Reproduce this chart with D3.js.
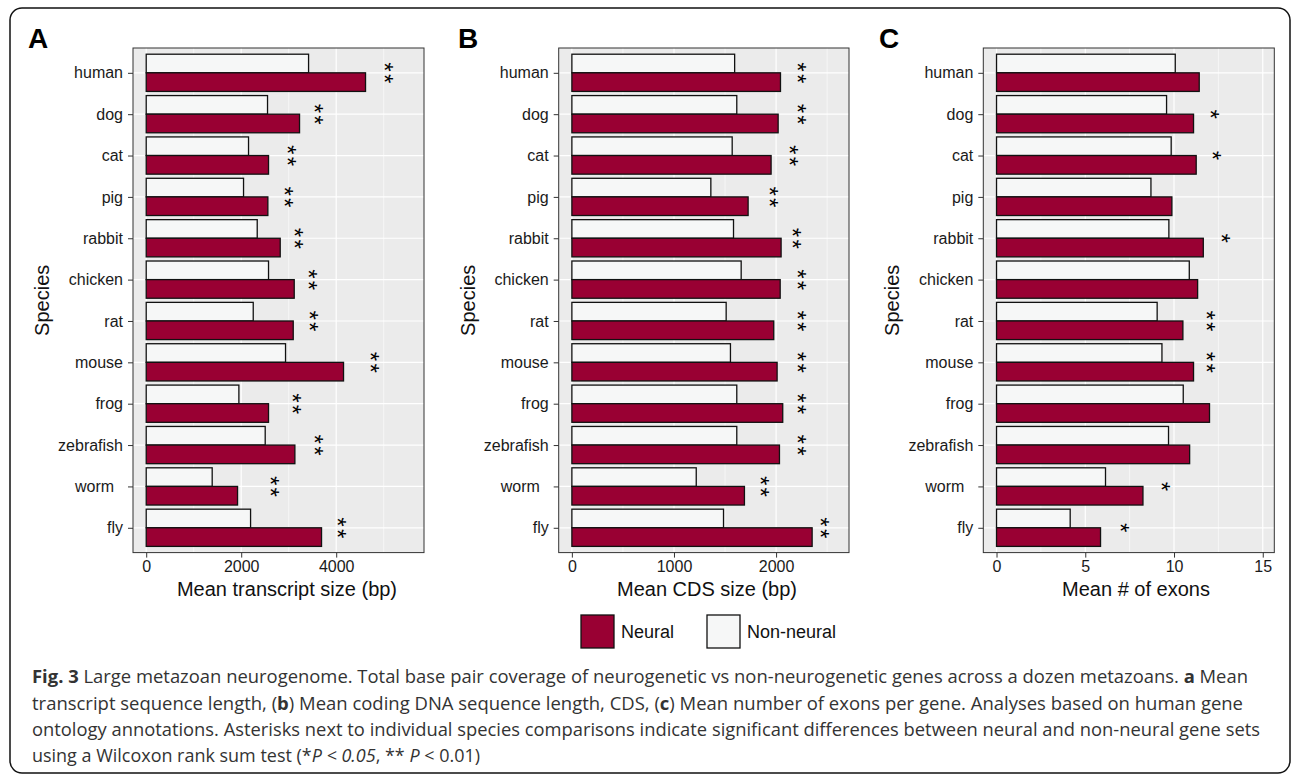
<!DOCTYPE html>
<html>
<head>
<meta charset="utf-8">
<script src="https://cdn.jsdelivr.net/npm/d3@7"></script>
<style>
  body { margin: 0; background: #fff; }
  svg text { font-family: "Liberation Sans", Arial, sans-serif; }
  .caption { font-family: "Open Sans", sans-serif !important; }
</style>
</head>
<body>
<div id="fig"></div>
<script>
// species, top to bottom
const species = ["human", "dog", "cat", "pig", "rabbit", "chicken", "rat", "mouse", "frog", "zebrafish", "worm", "fly"];
const speciesLabels = ["human", "dog", "cat", "pig", "rabbit", "chicken", "rat", "mouse", "frog", "zebrafish", "worm  ", "fly"];

// A: mean transcript size (bp)
const transcriptNeural    = [4617, 3228, 2575, 2561, 2821, 3116, 3095, 4154, 2575, 3130, 1923, 3691];
const transcriptNonNeural = [3418, 2554, 2154, 2049, 2337, 2575, 2253, 2933, 1951, 2505, 1389, 2197];
const transcriptStars     = [2, 2, 2, 2, 2, 2, 2, 2, 2, 2, 2, 2];
const transcriptStarPos   = [5151, 3663, 3101, 3038, 3242, 3543, 3572, 4836, 3207, 3663, 2743, 4141];
const transcriptTicks     = [0, 2000, 4000];

// B: mean CDS size (bp)
const cdsNeural    = [2043, 2020, 1951, 1726, 2049, 2040, 1977, 2010, 2065, 2033, 1690, 2353];
const cdsNonNeural = [1594, 1615, 1570, 1361, 1583, 1658, 1511, 1553, 1615, 1615, 1218, 1485];
const cdsStars     = [2, 2, 2, 2, 2, 2, 2, 2, 2, 2, 2, 2];
const cdsStarPos   = [2271, 2271, 2189, 1994, 2222, 2271, 2271, 2271, 2271, 2271, 1903, 2490];
const cdsTicks     = [0, 1000, 2000];

// C: mean # of exons
const exonNeural    = [11.42, 11.10, 11.25, 9.88, 11.65, 11.33, 10.50, 11.10, 12.0, 10.88, 8.25, 5.86];
const exonNonNeural = [10.07, 9.58, 9.84, 8.70, 9.71, 10.86, 9.05, 9.32, 10.52, 9.69, 6.14, 4.15];
const exonStars     = [0, 1, 1, 0, 1, 0, 2, 2, 0, 0, 1, 1];
const exonStarPos   = [0, 12.40, 12.51, 0, 13.02, 0, 12.17, 12.17, 0, 0, 9.60, 7.29];
const exonTicks     = [0, 5, 10, 15];

const neuralColor = "#990033";
const nonNeuralColor = "#f6f7f7";

const W = 1293, H = 776;
const panelTop = 48, panelBottom = 552.6;

let svg = d3.select("#fig")
    .append("svg")
    .attr("width", W)
    .attr("height", H);

// outer frame
svg.append("rect")
    .attr("x", 10).attr("y", 8)
    .attr("width", 1280).attr("height", 765)
    .attr("rx", 12).attr("ry", 12)
    .attr("fill", "none")
    .attr("stroke", "#111")
    .attr("stroke-width", 1.5);

let y = d3.scalePoint()
    .domain(species)
    .range([panelTop, panelBottom])
    .padding(0.6);

const step = y.step();
const bw = step * 0.45;

function renderPanel(opt) {
    let x = d3.scaleLinear()
        .domain(opt.domain)
        .range([opt.left, opt.right]);

    let g = svg.append("g");

    // panel background
    g.append("rect")
        .attr("x", opt.left).attr("y", panelTop)
        .attr("width", opt.right - opt.left)
        .attr("height", panelBottom - panelTop)
        .attr("fill", "#ebebeb");

    // minor grid
    let minor = opt.ticks.slice(0, -1).map((t, i) => (t + opt.ticks[i + 1]) / 2);
    const last = opt.ticks[opt.ticks.length - 1];
    const stepT = opt.ticks[1] - opt.ticks[0];
    if (x(last + stepT / 2) < opt.right) minor.push(last + stepT / 2);

    g.selectAll(".minor").data(minor).enter()
        .append("line")
        .attr("x1", d => x(d)).attr("x2", d => x(d))
        .attr("y1", panelTop).attr("y2", panelBottom)
        .attr("stroke", "#fff").attr("stroke-width", 0.6);

    g.selectAll(".major").data(opt.ticks).enter()
        .append("line")
        .attr("x1", d => x(d)).attr("x2", d => x(d))
        .attr("y1", panelTop).attr("y2", panelBottom)
        .attr("stroke", "#fff").attr("stroke-width", 1.2);

    g.selectAll(".hgrid").data(species).enter()
        .append("line")
        .attr("x1", opt.left).attr("x2", opt.right)
        .attr("y1", d => y(d)).attr("y2", d => y(d))
        .attr("stroke", "#fff").attr("stroke-width", 1.2);

    // bars
    g.selectAll(".nn").data(species).enter()
        .append("rect")
        .attr("x", x(0))
        .attr("y", d => y(d) - bw)
        .attr("width", (d, i) => x(opt.nonNeural[i]) - x(0))
        .attr("height", bw)
        .attr("fill", nonNeuralColor)
        .attr("stroke", "#111")
        .attr("stroke-width", 1.3);

    g.selectAll(".n").data(species).enter()
        .append("rect")
        .attr("x", x(0))
        .attr("y", d => y(d))
        .attr("width", (d, i) => x(opt.neural[i]) - x(0))
        .attr("height", bw)
        .attr("fill", neuralColor)
        .attr("stroke", "#111")
        .attr("stroke-width", 1.3);

    // significance asterisks
    let stars = [];
    species.forEach((s, i) => {
        const n = opt.stars[i];
        for (let k = 0; k < n; k++) {
            const off = n === 2 ? (k === 0 ? -5.8 : 5.8) : 0;
            stars.push({ x: opt.starPos[i], y: y(s) + off });
        }
    });

    g.selectAll(".star").data(stars).enter()
        .append("text")
        .attr("transform", d => `translate(${x(d.x)},${d.y}) rotate(90)`)
        .attr("text-anchor", "middle")
        .attr("dy", "0.6em")
        .style("font-size", "24px")
        .attr("fill", "#000")
        .text("*");

    // panel border
    g.append("rect")
        .attr("x", opt.left).attr("y", panelTop)
        .attr("width", opt.right - opt.left)
        .attr("height", panelBottom - panelTop)
        .attr("fill", "none")
        .attr("stroke", "#333")
        .attr("stroke-width", 1);

    // axes
    let xAxis = g.append("g")
        .attr("transform", `translate(0,${panelBottom})`)
        .call(d3.axisBottom(x).tickValues(opt.ticks).tickFormat(d3.format("d"))
            .tickSize(5).tickPadding(3));
    xAxis.select(".domain").remove();
    xAxis.selectAll("line").attr("stroke", "#333");
    xAxis.selectAll("text").style("font-size", "16px").attr("fill", "#1a1a1a")
        .style("font-family", "Liberation Sans, Arial, sans-serif");

    let yAxis = g.append("g")
        .attr("transform", `translate(${opt.left},0)`)
        .call(d3.axisLeft(y).tickSize(5).tickPadding(5)
            .tickFormat((d, i) => speciesLabels[i]));
    yAxis.select(".domain").remove();
    yAxis.selectAll("line").attr("stroke", "#333");
    yAxis.selectAll("text").style("font-size", "16px").attr("fill", "#1a1a1a")
        .style("white-space", "pre")
        .style("font-family", "Liberation Sans, Arial, sans-serif");

    // titles
    g.append("text")
        .attr("x", opt.titleX).attr("y", 596)
        .attr("text-anchor", "middle")
        .style("font-size", "20px")
        .attr("fill", "#111")
        .text(opt.title);

    g.append("text")
        .attr("transform", `translate(${opt.left - 91},${(panelTop + panelBottom) / 2}) rotate(-90)`)
        .attr("text-anchor", "middle")
        .attr("dy", "0.35em")
        .style("font-size", "20px")
        .attr("fill", "#111")
        .text("Species");

    g.append("text")
        .attr("x", opt.letterX).attr("y", 48)
        .style("font-size", "28px")
        .style("font-weight", "bold")
        .attr("fill", "#000")
        .text(opt.letter);
}

renderPanel({
    letter: "A", letterX: 28,
    left: 133, right: 424, domain: [-278, 5848],
    neural: transcriptNeural, nonNeural: transcriptNonNeural,
    stars: transcriptStars, starPos: transcriptStarPos,
    ticks: transcriptTicks, title: "Mean transcript size (bp)", titleX: 287
});

renderPanel({
    letter: "B", letterX: 458,
    left: 558.7, right: 849, domain: [-129, 2714],
    neural: cdsNeural, nonNeural: cdsNonNeural,
    stars: cdsStars, starPos: cdsStarPos,
    ticks: cdsTicks, title: "Mean CDS size (bp)", titleX: 707
});

renderPanel({
    letter: "C", letterX: 879,
    left: 983.3, right: 1274.3, domain: [-0.745, 15.65],
    neural: exonNeural, nonNeural: exonNonNeural,
    stars: exonStars, starPos: exonStarPos,
    ticks: exonTicks, title: "Mean # of exons", titleX: 1136
});

// legend
const legendItems = [
    { label: "Neural", color: neuralColor, x: 581 },
    { label: "Non-neural", color: nonNeuralColor, x: 707 }
];
let legend = svg.append("g");
legend.selectAll("rect").data(legendItems).enter()
    .append("rect")
    .attr("x", d => d.x).attr("y", 615)
    .attr("width", 33).attr("height", 33)
    .attr("fill", d => d.color)
    .attr("stroke", "#111")
    .attr("stroke-width", 1.3);
legend.selectAll("text").data(legendItems).enter()
    .append("text")
    .attr("x", d => d.x + 40).attr("y", 632)
    .attr("dy", "0.35em")
    .style("font-size", "18px")
    .attr("fill", "#111")
    .text(d => d.label);

// caption
const captionLines = [
    { y: 683, len: 1216, parts: [["Fig. 3", "b"], [" Large metazoan neurogenome. Total base pair coverage of neurogenetic vs non-neurogenetic genes across a dozen metazoans. ", ""], ["a", "b"], [" Mean", ""]] },
    { y: 710, len: 1211, parts: [["transcript sequence length, (", ""], ["b", "b"], [") Mean coding DNA sequence length, CDS, (", ""], ["c", "b"], [") Mean number of exons per gene. Analyses based on human gene", ""]] },
    { y: 736, len: 1228, parts: [["ontology annotations. Asterisks next to individual species comparisons indicate significant differences between neural and non-neural gene sets", ""]] },
    { y: 762, len: 448, parts: [["using a Wilcoxon rank sum test (*", ""], ["P < 0.05", "i"], [", ** ", ""], ["P", "i"], [" < 0.01)", ""]] }
];

let caption = svg.append("g");
captionLines.forEach(line => {
    let t = caption.append("text")
        .attr("class", "caption")
        .attr("x", 32).attr("y", line.y)
        .attr("textLength", line.len)
        .attr("lengthAdjust", "spacingAndGlyphs")
        .style("font-size", "17.5px")
        .style("white-space", "pre")
        .attr("fill", "#333");
    line.parts.forEach(p => {
        t.append("tspan")
            .style("font-weight", p[1] === "b" ? "bold" : "normal")
            .style("font-style", p[1] === "i" ? "italic" : "normal")
            .text(p[0]);
    });
});
</script>
</body>
</html>
